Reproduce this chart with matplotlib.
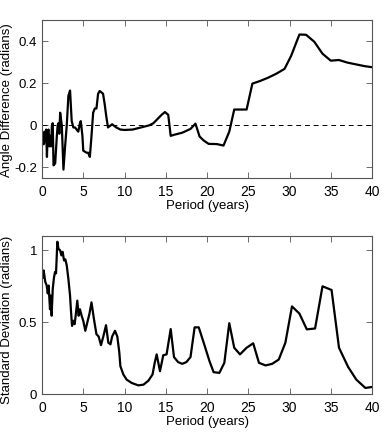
import matplotlib
matplotlib.use("Agg")
import matplotlib.pyplot as plt

# top panel: angle difference vs period
period_angle = [0.1, 0.2, 0.3, 0.4, 0.5, 0.6, 0.7, 0.8, 0.9, 1.0, 1.1, 1.2, 1.3, 1.4, 1.6,
                1.8, 1.9, 2.0, 2.1, 2.2, 2.4, 2.6, 2.8, 3.0, 3.2, 3.4, 3.6, 3.8, 4.0, 4.2,
                4.4, 4.6, 4.7, 4.9, 5.0, 5.4, 5.6, 5.8, 6.0, 6.2, 6.4, 6.6, 6.8, 7.0, 7.4,
                7.6, 7.8, 8.0, 8.5, 9.0, 9.5, 10.0, 11.0, 12.0, 13.0, 13.5, 14.0, 14.5, 14.9,
                15.3, 15.6, 16.0, 17.0, 18.0, 18.6, 19.1, 19.6, 20.2, 21.2, 22.0, 22.7, 23.3,
                24.8, 25.5, 26.4, 27.4, 28.4, 29.4, 30.2, 31.2, 32.0, 33.0, 34.0, 35.0, 36.0,
                37.0, 38.1, 39.1, 40.0]
angle_diff = [-0.04, -0.09, -0.03, -0.08, -0.02, -0.15, -0.03, -0.02, -0.1, -0.05, -0.1, 0.0,
              0.01, -0.19, -0.18, -0.05, 0.0, 0.01, -0.04, 0.06, 0.0, -0.21, -0.1, 0.0, 0.14,
              0.165, 0.02, -0.01, -0.01, -0.02, -0.03, 0.01, 0.02, -0.05, -0.12, -0.13, -0.13,
              -0.15, -0.05, 0.06, 0.08, 0.08, 0.15, 0.163, 0.15, 0.1, 0.04, -0.01, 0.005,
              -0.01, -0.02, -0.022, -0.02, -0.01, 0.0, 0.01, 0.03, 0.05, 0.063, 0.05, -0.05,
              -0.045, -0.035, -0.017, 0.008, -0.053, -0.072, -0.088, -0.089, -0.096, -0.03,
              0.075, 0.075, 0.198, 0.21, 0.226, 0.245, 0.268, 0.33, 0.431, 0.43, 0.397, 0.34,
              0.307, 0.31, 0.298, 0.289, 0.281, 0.276]

# bottom panel: standard deviation vs period
period_std = [0.08, 0.2, 0.4, 0.57, 0.7, 0.8, 0.9, 0.97, 1.05, 1.17, 1.3, 1.45, 1.58, 1.7,
              1.86, 2.0, 2.2, 2.35, 2.5, 2.67, 2.83, 3.0, 3.2, 3.4, 3.5, 3.64, 3.8, 3.96,
              4.1, 4.28, 4.44, 4.6, 4.8, 5.0, 5.25, 5.5, 5.74, 6.0, 6.3, 6.6, 6.87, 7.15,
              7.43, 7.76, 8.04, 8.3, 8.5, 8.85, 9.13, 9.37, 9.5, 9.86, 10.26, 10.87, 11.68,
              12.3, 12.9, 13.4, 13.66, 13.9, 14.3, 14.7, 15.1, 15.6, 16.0, 16.5, 17.0, 17.5,
              18.0, 18.5, 19.0, 19.6, 20.3, 20.8, 21.5, 22.1, 22.7, 23.3, 24.0, 24.8, 25.6,
              26.3, 27.1, 27.9, 28.7, 29.5, 30.3, 31.2, 32.1, 33.1, 34.0, 35.1, 36.0, 37.1,
              38.1, 39.2, 40.0]
std_dev = [0.81, 0.86, 0.78, 0.755, 0.70, 0.755, 0.66, 0.59, 0.685, 0.545, 0.73, 0.81, 0.85,
           0.84, 1.06, 1.01, 1.0, 0.965, 0.99, 0.93, 0.937, 0.895, 0.80, 0.685, 0.59, 0.474,
           0.51, 0.486, 0.556, 0.65, 0.545, 0.59, 0.545, 0.51, 0.44, 0.50, 0.556, 0.638, 0.52,
           0.416, 0.40, 0.34, 0.40, 0.479, 0.357, 0.346, 0.40, 0.44, 0.40, 0.29, 0.194, 0.136,
           0.10, 0.077, 0.06, 0.065, 0.093, 0.136, 0.217, 0.276, 0.159, 0.27, 0.276, 0.452,
           0.257, 0.222, 0.21, 0.222, 0.257, 0.464, 0.464, 0.357, 0.229, 0.152, 0.147, 0.217,
           0.493, 0.322, 0.276, 0.322, 0.353, 0.217, 0.199, 0.21, 0.24, 0.357, 0.61, 0.56,
           0.45, 0.456, 0.75, 0.724, 0.322, 0.189, 0.10, 0.042, 0.049]

x_ticks = [0, 5, 10, 15, 20, 25, 30, 35, 40]

font = ["Liberation Sans", "DejaVu Sans"]
tick_kw = dict(family=font, fontsize=10)

fig = plt.figure(figsize=(3.82, 4.36), dpi=100)
W, H = 382, 436
ax1 = fig.add_axes([42 / W, 1 - 178 / H, 330 / W, 158 / H])
ax2 = fig.add_axes([42 / W, 1 - 394 / H, 330 / W, 158 / H])


def style(ax, yticks, yticklabels):
    ax.set_xlim(0, 40)
    ax.set_xticks(x_ticks)
    ax.set_xticklabels([str(t) for t in x_ticks], **tick_kw)
    ax.set_yticks(yticks)
    ax.set_yticklabels(yticklabels, family=font, fontsize=9.5)
    ax.tick_params(direction="in", top=True, right=True, length=4, width=0.6,
                   color="#555555")
    ax.tick_params(axis="x", pad=5)
    ax.tick_params(axis="y", pad=3.5)
    for sp in ax.spines.values():
        sp.set_linewidth(0.8)
        sp.set_color("#555555")
    ax.set_xlabel("Period (years)", labelpad=1, family=font, fontsize=9.5)


ax1.plot(period_angle, angle_diff, color="black", lw=1.6)
ax1.axhline(0, color="black", lw=0.7, ls=(0, (5, 4)))
ax1.set_ylim(-0.25, 0.5)
style(ax1, [-0.2, 0, 0.2, 0.4], ["-0.2", "0", "0.2", "0.4"])
ax1.set_ylabel("Angle Difference (radians)", family=font, fontsize=9.5)
ax1.yaxis.set_label_coords(-0.088, 0.49)

ax2.plot(period_std, std_dev, color="black", lw=1.6)
ax2.set_ylim(0, 1.1)
style(ax2, [0, 0.5, 1], ["0", "0.5", "1"])
ax2.set_ylabel("Standard Deviation (radians)", family=font, fontsize=9.5)
ax2.yaxis.set_label_coords(-0.088, 0.47)

fig.savefig("out.png", dpi=100)
